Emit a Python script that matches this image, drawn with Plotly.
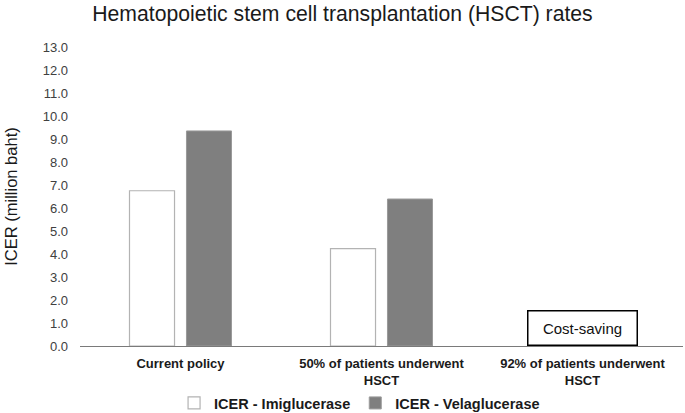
import plotly.graph_objects as go

categories = ["Current policy", "50% of patients underwent<br>HSCT", "92% of patients underwent<br>HSCT"]
imiglucerase = [6.75, 4.23, None]
velaglucerase = [9.35, 6.39, None]
y_ticks = [float(v) for v in range(0, 14)]
note_text = "Cost-saving"

FONT = "Arial, Liberation Sans, sans-serif"

fig = go.Figure()
fig.add_trace(go.Bar(
    x=categories, y=imiglucerase, name="ICER - Imiglucerase",
    marker=dict(color="#ffffff", line=dict(color="#b3b3b3", width=1.2)),
))
fig.add_trace(go.Bar(
    x=categories, y=velaglucerase, name="ICER - Velaglucerase",
    marker=dict(color="#7f7f7f", line=dict(color="#9a9a9a", width=1)),
))

fig.add_annotation(
    x=categories[2], y=0, xref="x", yref="y", yanchor="bottom",
    text=note_text, showarrow=False,
    font=dict(family=FONT, size=15, color="#111111"),
    bordercolor="#000000", borderwidth=1.5, borderpad=2,
    width=104, height=29, bgcolor="#ffffff",
)

fig.update_layout(
    width=685, height=413,
    margin=dict(l=80, r=2, t=47, b=67),
    paper_bgcolor="#ffffff", plot_bgcolor="#ffffff",
    font=dict(family=FONT, color="#404040"),
    barmode="group", bargap=0.433, bargroupgap=0.21,
    title=dict(
        text="Hematopoietic stem cell transplantation (HSCT) rates",
        x=0.5, xref="container", xanchor="center",
        y=1 - 14 / 413, yref="container", yanchor="middle",
        font=dict(family=FONT, size=21.2, color="#1a1a1a"),
    ),
    showlegend=True,
    legend=dict(
        orientation="h", xref="paper", x=0.156, xanchor="left",
        yref="container", y=(413 - 387) / 413, yanchor="top",
        font=dict(family=FONT, size=14.5, color="#1a1a1a", weight="bold"),
        traceorder="normal", itemwidth=30,
    ),
    xaxis=dict(
        showline=True, linecolor="#7a7a7a", linewidth=1,
        showgrid=False, ticks="", ticklabelstandoff=5, automargin=False,
        tickfont=dict(family=FONT, size=13, color="#1a1a1a", weight="bold"),
    ),
    yaxis=dict(
        range=[0, 13], tickvals=y_ticks, tickformat=".1f",
        showline=False, showgrid=False, zeroline=False, ticks="",
        tickfont=dict(family=FONT, size=13, color="#404040"),
        ticklabelstandoff=11,
        title=dict(text="ICER (million baht)", standoff=20,
                   font=dict(family=FONT, size=16.5, color="#1a1a1a")),
        automargin=False,
    ),
)

fig.write_html(
    "out.html",
    config={"displayModeBar": False},
    post_script="document.body.style.margin='0';document.body.style.overflow='hidden';",
)
